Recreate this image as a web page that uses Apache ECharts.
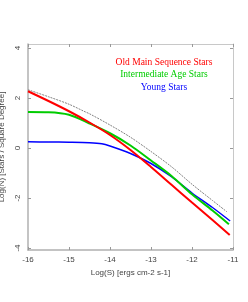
<!DOCTYPE html>
<html><head><meta charset="utf-8">
<script src="https://cdn.jsdelivr.net/npm/echarts@6/dist/echarts.min.js"></script>
<style>html,body{margin:0;padding:0;background:#fff}#c{width:248px;height:302px}</style>
</head><body><div id="c"></div>
<script>
var logS = [-16, -15.5, -15, -14.5, -14, -13.5, -13, -12.5, -12, -11.5];
var oldMS   = [2.27, 1.88, 1.47, 1.02, 0.52, -0.08, -0.76, -1.47, -2.18, -2.88];
var interm  = [1.44, 1.43, 1.33, 0.98, 0.59, 0.10, -0.50, -1.12, -1.85, -2.50];
var young   = [0.25, 0.24, 0.23, 0.21, 0.08, -0.22, -0.62, -1.15, -1.80, -2.38];
var total   = [2.33, 2.05, 1.75, 1.37, 0.92, 0.43, -0.14, -0.75, -1.45, -2.10];
var endOld = [-11.08, -3.48], endInt = [-11.1, -3.05], endYoung = [-11.07, -2.92], endTotal = [-11.15, -2.55];
var blueKnee = [-14.2, 0.17];
var xTicks = [-16, -15, -14, -13, -12, -11];
var yTicks = [-4, -2, 0, 2, 4];
var legendNames = ['Old Main Sequence Stars', 'Intermediate Age Stars', 'Young Stars'];
var legendColors = ['#ff0000', '#00cc00', '#0000ff'];

function pairs(xs, ys, extra) {
  var out = xs.map(function (x, i) { return [x, ys[i]]; });
  (extra || []).forEach(function (p) { out.push(p); });
  out.sort(function (a, b) { return a[0] - b[0]; });
  return out;
}

var chart = echarts.init(document.getElementById('c'), null, {renderer: 'canvas'});
var axisFont = {fontFamily: 'Liberation Sans, Arial, sans-serif', fontSize: 8, color: '#444'};
var line = {onZero: false, lineStyle: {color: '#b0b0b0', width: 1.5}};
var line2 = {onZero: false, lineStyle: {color: '#c8c8c8', width: 1}};
var tickStyle = {inside: true, length: 3, lineStyle: {color: '#999', width: 1}};
chart.setOption({
  animation: false,
  grid: {left: 28, right: 15, top: 44, bottom: 52, containLabel: false, outerBoundsMode: 'none'},
  xAxis: [{
    type: 'value', min: -16, max: -11, position: 'bottom',
    axisLine: line, splitLine: {show: false},
    axisTick: Object.assign({customValues: xTicks}, tickStyle),
    axisLabel: Object.assign({customValues: xTicks, margin: 6}, axisFont),
    name: 'Log(S) [ergs cm-2 s-1]', nameLocation: 'middle', nameGap: 18,
    nameTextStyle: axisFont
  }, {
    type: 'value', min: -16, max: -11, position: 'top',
    axisLine: line2, splitLine: {show: false},
    axisTick: Object.assign({customValues: xTicks}, tickStyle),
    axisLabel: {show: false}
  }],
  yAxis: [{
    type: 'value', min: -4.08, max: 4.16, position: 'left',
    axisLine: line, splitLine: {show: false},
    axisTick: Object.assign({customValues: yTicks}, tickStyle),
    axisLabel: Object.assign({customValues: yTicks, rotate: 90, margin: 6, align: 'center', verticalAlign: 'bottom'}, axisFont),
    name: 'Log(N) [Stars / Square Degree]', nameLocation: 'middle', nameGap: 14,
    nameRotate: 90, nameTextStyle: axisFont
  }, {
    type: 'value', min: -4.08, max: 4.16, position: 'right',
    axisLine: line2, splitLine: {show: false},
    axisTick: Object.assign({customValues: yTicks}, tickStyle),
    axisLabel: {show: false}
  }],
  series: [
    {type: 'line', name: 'Total', data: pairs(logS, total, [endTotal, [-14.61, 1.45]]), smooth: 0.3, showSymbol: false,
     lineStyle: {color: '#808080', width: 1, type: [2, 1]}, z: 1},
    {type: 'line', name: legendNames[2], data: pairs(logS, young, [endYoung, blueKnee]), smooth: 0.3, showSymbol: false,
     lineStyle: {color: legendColors[2], width: 1.5}, z: 2},
    {type: 'line', name: legendNames[1], data: pairs(logS, interm, [endInt]), smooth: 0.3, showSymbol: false,
     lineStyle: {color: legendColors[1], width: 2}, z: 3},
    {type: 'line', name: legendNames[0], data: pairs(logS, oldMS, [endOld]), smooth: 0.3, showSymbol: false,
     lineStyle: {color: legendColors[0], width: 2}, z: 4}
  ],
  graphic: legendNames.map(function (n, i) {
    return {type: 'text', x: 164, y: 62 + i * 12.5,
      style: {text: n, fill: legendColors[i], font: '9.5px "Liberation Serif", "Times New Roman", serif',
        textAlign: 'center', textVerticalAlign: 'middle'}};
  })
});
</script></body></html>
